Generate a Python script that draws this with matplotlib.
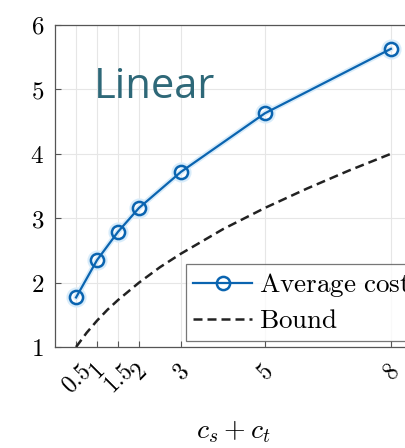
import numpy as np
import matplotlib.pyplot as plt

plt.rcParams['mathtext.fontset'] = 'cm'
plt.rcParams['font.family'] = 'serif'

# datos
costes = [0.5, 1, 1.5, 2, 3, 5, 8]
costeMedio = [1.77, 2.35, 2.79, 3.16, 3.72, 4.63, 5.63]

xCota = [0.5, 0.75, 1, 1.25, 1.5, 2, 2.5, 3, 4, 5, 6, 7, 8]
cota = [1.0, 1.22, 1.41, 1.58, 1.73, 2.0, 2.24, 2.45, 2.83, 3.16, 3.46, 3.74, 4.0]

etiquetasX = ['0.5', '1', '1.5', '2', '3', '5', '8']
ticksY = [1, 2, 3, 4, 5, 6]

azul = '#0a64b0'

fig = plt.figure(figsize=(4.05, 4.48), dpi=100)
ax = fig.add_axes([0.136, 0.2254, 0.881, 0.7188])

# halo claro alrededor de la linea (imagen borrosa)
ax.plot(costes, costeMedio, color='#d8ecfa', lw=4, zorder=2, solid_capstyle='round')
ax.plot(costes, costeMedio, 'o', ms=11, mfc='none', mec='#d8ecfa', mew=3.5, zorder=2)
linea, = ax.plot(costes, costeMedio, '-o', color=azul, lw=1.6, ms=9.5,
                 mfc='none', mec=azul, mew=1.8, zorder=3, label=r'$\mathrm{Average\ cost}$')
cotaL, = ax.plot(xCota, cota, '--', color='#222222', lw=1.8, dashes=(3.6, 2.0),
                 zorder=3, label=r'$\mathrm{Bound}$')

ax.set_xlim(0, 8.5)
ax.set_ylim(1, 6)
ax.set_xticks(costes)
ax.set_xticklabels(['$' + e + '$' for e in etiquetasX], rotation=45, fontsize=17, ha='center')
ax.set_yticks(ticksY)
ax.set_yticklabels(['$%d$' % v for v in ticksY], fontsize=18)
ax.tick_params(direction='in', length=4, color='#555555')
ax.tick_params(axis='x', pad=9)
ax.tick_params(axis='y', pad=8)
ax.grid(True, color='#e6e6e6', lw=0.8)
ax.set_axisbelow(True)
for s in ax.spines.values():
    s.set_color('#555555')
    s.set_linewidth(0.9)

ax.set_xlabel(r'$c_s + c_t$', fontsize=20, labelpad=15)

ax.text(0.93, 4.87, 'Linear', fontsize=30, color='#2e6878', family='Open Sans', va='baseline')

# la leyenda queda cortada por el borde derecho, como en el original
leg = ax.legend(handles=[linea, cotaL], loc='lower left', bbox_to_anchor=(0.367, 0.019),
                fontsize=19.5, frameon=True, fancybox=False, edgecolor='#555555',
                handlelength=2.2, handletextpad=0.26, borderpad=0.25, labelspacing=0.3,
                borderaxespad=0)
leg.get_frame().set_linewidth(0.9)

plt.savefig('out.png', dpi=100)
